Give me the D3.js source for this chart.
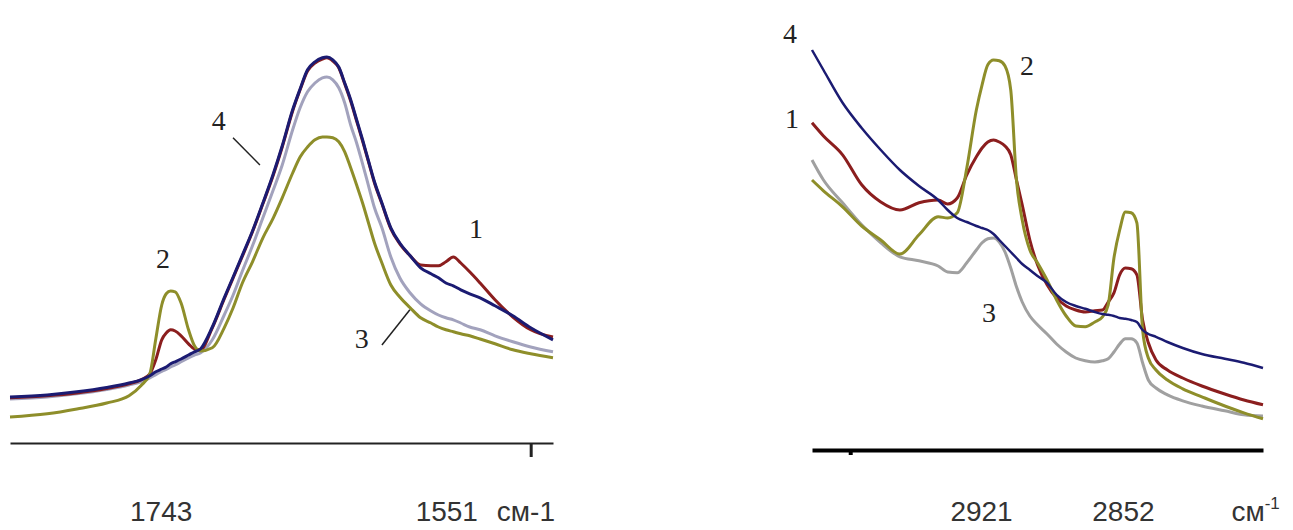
<!DOCTYPE html>
<html>
<head>
<meta charset="utf-8">
<script src="https://cdn.jsdelivr.net/npm/d3@7"></script>
<style>
  html, body { margin: 0; padding: 0; background: #fff; }
  svg { display: block; }
</style>
</head>
<body>
<svg id="chart" width="1293" height="530"></svg>
<script>
// left panel: amide region, wavenumber (cm-1) and absorbance for samples 1..4
const leftWn = [1850, 1825, 1805, 1785, 1770, 1762, 1756, 1752, 1748, 1745, 1742, 1739, 1735, 1730, 1726, 1722, 1714, 1706, 1700, 1694, 1687, 1680, 1673, 1667, 1660, 1655, 1650, 1645, 1640, 1637, 1633, 1629, 1625, 1621, 1617, 1613, 1609, 1605, 1600, 1594, 1588, 1581, 1574, 1567, 1562, 1557, 1552, 1547, 1541, 1534, 1524, 1512, 1500, 1485]
const leftS1 = [0.113, 0.118, 0.125, 0.136, 0.148, 0.158, 0.173, 0.208, 0.258, 0.275, 0.283, 0.28, 0.268, 0.248, 0.235, 0.233, 0.288, 0.36, 0.413, 0.465, 0.528, 0.598, 0.67, 0.74, 0.83, 0.883, 0.93, 0.95, 0.96, 0.963, 0.955, 0.938, 0.898, 0.855, 0.805, 0.755, 0.703, 0.65, 0.598, 0.535, 0.498, 0.468, 0.445, 0.443, 0.443, 0.453, 0.465, 0.45, 0.428, 0.4, 0.358, 0.315, 0.283, 0.265]
const leftS2 = [0.065, 0.073, 0.085, 0.1, 0.118, 0.143, 0.173, 0.26, 0.345, 0.373, 0.38, 0.378, 0.35, 0.283, 0.243, 0.23, 0.238, 0.288, 0.338, 0.398, 0.453, 0.513, 0.563, 0.613, 0.675, 0.715, 0.74, 0.758, 0.765, 0.765, 0.763, 0.753, 0.728, 0.688, 0.645, 0.6, 0.55, 0.5, 0.45, 0.395, 0.365, 0.338, 0.313, 0.3, 0.29, 0.283, 0.278, 0.273, 0.268, 0.26, 0.248, 0.233, 0.223, 0.213]
const leftS3 = [0.11, 0.115, 0.123, 0.134, 0.145, 0.153, 0.163, 0.171, 0.179, 0.184, 0.19, 0.195, 0.203, 0.213, 0.22, 0.225, 0.258, 0.32, 0.37, 0.428, 0.493, 0.563, 0.633, 0.695, 0.783, 0.838, 0.878, 0.9, 0.913, 0.915, 0.908, 0.888, 0.85, 0.795, 0.75, 0.698, 0.643, 0.588, 0.538, 0.465, 0.413, 0.375, 0.348, 0.33, 0.32, 0.313, 0.308, 0.3, 0.29, 0.283, 0.268, 0.253, 0.24, 0.228]
const leftS4 = [0.115, 0.12, 0.128, 0.139, 0.15, 0.158, 0.168, 0.178, 0.185, 0.19, 0.198, 0.203, 0.21, 0.22, 0.228, 0.235, 0.29, 0.363, 0.415, 0.468, 0.53, 0.6, 0.673, 0.743, 0.833, 0.885, 0.933, 0.953, 0.963, 0.965, 0.958, 0.94, 0.9, 0.858, 0.808, 0.758, 0.705, 0.653, 0.6, 0.538, 0.5, 0.468, 0.438, 0.423, 0.413, 0.4, 0.393, 0.383, 0.373, 0.363, 0.343, 0.318, 0.288, 0.258]

// right panel: CH stretching region
const rightWn = [3016, 3010, 3000, 2990, 2980, 2970, 2960, 2950, 2945, 2940, 2935, 2930, 2927, 2924, 2921, 2918, 2915, 2912, 2909, 2906, 2902, 2898, 2893, 2888, 2883, 2878, 2873, 2868, 2864, 2861, 2858, 2855, 2852, 2849, 2846, 2843, 2840, 2836, 2830, 2822, 2812, 2800, 2790, 2780]
const rightS1 = [0.818, 0.785, 0.738, 0.663, 0.62, 0.6, 0.618, 0.625, 0.615, 0.63, 0.688, 0.733, 0.755, 0.77, 0.775, 0.77, 0.76, 0.738, 0.675, 0.613, 0.525, 0.463, 0.413, 0.38, 0.36, 0.35, 0.345, 0.348, 0.35, 0.37, 0.393, 0.438, 0.455, 0.453, 0.438, 0.325, 0.268, 0.225, 0.2, 0.18, 0.16, 0.14, 0.125, 0.113]
const rightS2 = [0.675, 0.648, 0.608, 0.56, 0.525, 0.49, 0.538, 0.583, 0.58, 0.593, 0.705, 0.85, 0.913, 0.963, 0.975, 0.973, 0.96, 0.9, 0.675, 0.575, 0.5, 0.468, 0.425, 0.375, 0.335, 0.31, 0.308, 0.32, 0.333, 0.363, 0.48, 0.55, 0.595, 0.593, 0.568, 0.3, 0.23, 0.2, 0.175, 0.153, 0.133, 0.11, 0.093, 0.078]
const rightS3 = [0.725, 0.675, 0.618, 0.563, 0.518, 0.483, 0.473, 0.46, 0.445, 0.443, 0.468, 0.5, 0.518, 0.528, 0.53, 0.52, 0.495, 0.455, 0.408, 0.37, 0.335, 0.313, 0.29, 0.265, 0.245, 0.23, 0.223, 0.22, 0.223, 0.228, 0.245, 0.265, 0.278, 0.278, 0.268, 0.218, 0.175, 0.155, 0.138, 0.123, 0.11, 0.098, 0.088, 0.085]
const rightS4 = [1.0, 0.95, 0.868, 0.805, 0.75, 0.7, 0.66, 0.625, 0.6, 0.58, 0.57, 0.56, 0.555, 0.55, 0.54, 0.525, 0.51, 0.495, 0.48, 0.465, 0.45, 0.435, 0.418, 0.388, 0.37, 0.36, 0.353, 0.345, 0.34, 0.338, 0.335, 0.33, 0.328, 0.325, 0.32, 0.3, 0.29, 0.283, 0.27, 0.255, 0.24, 0.228, 0.218, 0.205]

const leftBands = [1743, 1551]
const rightBands = [2921, 2852]
const leftTicks = [1500]
const rightTicks = [2996]

// curve number labels, in data units [text, wavenumber, absorbance]
const leftCurveLabels = [["4", 1709.6, 0.783], ["2", 1747.2, 0.438], ["1", 1536.8, 0.513], ["3", 1613.5, 0.238]]
const rightCurveLabels = [["4", 3027.5, 1.017], ["1", 3026.5, 0.805], ["2", 2903.5, 0.938], ["3", 2923.4, 0.32]]
const leftLeaders = [[1700.1, 0.763, 1682, 0.695], [1600, 0.245, 1581.2, 0.333]]

const colors = {s1: "#8b1e1e", s2: "#8e8e2a", s3L: "#a2a2bd", s3R: "#a0a0a0", s4: "#1b1b72"}

const svg = d3.select("#chart")

const xL = d3.scaleLinear().domain([1850, 1485]).range([10, 553])
const yL = d3.scaleLinear().domain([0, 1]).range([443, 43])
const xR = d3.scaleLinear().domain([3016, 2780]).range([812, 1263])
const yR = d3.scaleLinear().domain([0, 1]).range([450, 50])

function drawPanel(wn, series, x, y) {
  const line = d3.line()
    .x((d) => x(d[0]))
    .y((d) => y(d[1]))
    .curve(d3.curveMonotoneX)
  const g = svg.append("g")
  for (const s of series) {
    g.append("path")
      .datum(wn.map((w, i) => [w, s.values[i]]))
      .attr("fill", "none")
      .attr("stroke", s.color)
      .attr("stroke-width", s.width)
      .attr("stroke-linejoin", "round")
      .attr("d", line)
  }
}

// draw order: gray, red, olive, blue on top
drawPanel(leftWn, [
  {values: leftS3, color: colors.s3L, width: 3},
  {values: leftS1, color: colors.s1, width: 3},
  {values: leftS2, color: colors.s2, width: 3},
  {values: leftS4, color: colors.s4, width: 3},
], xL, yL)

drawPanel(rightWn, [
  {values: rightS3, color: colors.s3R, width: 3},
  {values: rightS1, color: colors.s1, width: 3},
  {values: rightS2, color: colors.s2, width: 3},
  {values: rightS4, color: colors.s4, width: 2.5},
], xR, yR)

// axes
svg.append("g")
  .attr("transform", `translate(0,${yL(0)})`)
  .call(d3.axisBottom(xL).tickValues(leftTicks).tickSize(14).tickSizeOuter(0).tickFormat(""))
  .call((g) => g.select(".domain").attr("stroke", "#222").attr("stroke-width", 2))
  .call((g) => g.selectAll(".tick line").attr("stroke", "#222").attr("stroke-width", 3))

svg.append("g")
  .attr("transform", `translate(0,${yR(0)})`)
  .call(d3.axisBottom(xR).tickValues(rightTicks).tickSize(5).tickSizeOuter(0).tickFormat(""))
  .call((g) => g.select(".domain").attr("stroke", "#000").attr("stroke-width", 4))
  .call((g) => g.selectAll(".tick line").attr("stroke", "#000").attr("stroke-width", 4))

// band labels under the axes
const sans = "'Liberation Sans', Arial, sans-serif"
const serif = "'Liberation Serif', 'Times New Roman', serif"

svg.append("g").selectAll("text")
  .data(leftBands)
  .join("text")
  .attr("x", (d) => xL(d) - 8)
  .attr("y", 521)
  .attr("text-anchor", "middle")
  .attr("font-family", sans)
  .attr("font-size", 28)
  .attr("fill", "#333")
  .text((d) => d)

svg.append("text")
  .attr("x", xL(1551) + 42)
  .attr("y", 521)
  .attr("font-family", sans)
  .attr("font-size", 28)
  .attr("fill", "#333")
  .text("см-1")

svg.append("g").selectAll("text")
  .data(rightBands)
  .join("text")
  .attr("x", (d, i) => xR(d) - (i === 0 ? 12 : 2))
  .attr("y", 521)
  .attr("text-anchor", "middle")
  .attr("font-family", sans)
  .attr("font-size", 28)
  .attr("fill", "#333")
  .text((d) => d)

const unitR = svg.append("text")
  .attr("x", xR(2852) + 106)
  .attr("y", 521)
  .attr("font-family", sans)
  .attr("font-size", 28)
  .attr("fill", "#333")
unitR.append("tspan").text("см")
unitR.append("tspan").attr("dy", -12).attr("font-size", 17).text("-1")

// curve numbers
svg.append("g").selectAll("text")
  .data(leftCurveLabels)
  .join("text")
  .attr("x", (d) => xL(d[1]))
  .attr("y", (d) => yL(d[2]))
  .attr("text-anchor", "middle")
  .attr("font-family", serif)
  .attr("font-size", 28)
  .attr("fill", "#222")
  .text((d) => d[0])

svg.append("g").selectAll("text")
  .data(rightCurveLabels)
  .join("text")
  .attr("x", (d) => xR(d[1]))
  .attr("y", (d) => yR(d[2]))
  .attr("text-anchor", "middle")
  .attr("font-family", serif)
  .attr("font-size", 28)
  .attr("fill", "#222")
  .text((d) => d[0])

svg.append("g").selectAll("line")
  .data(leftLeaders)
  .join("line")
  .attr("x1", (d) => xL(d[0]))
  .attr("y1", (d) => yL(d[1]))
  .attr("x2", (d) => xL(d[2]))
  .attr("y2", (d) => yL(d[3]))
  .attr("stroke", "#222")
  .attr("stroke-width", 1.5)
</script>
</body>
</html>
